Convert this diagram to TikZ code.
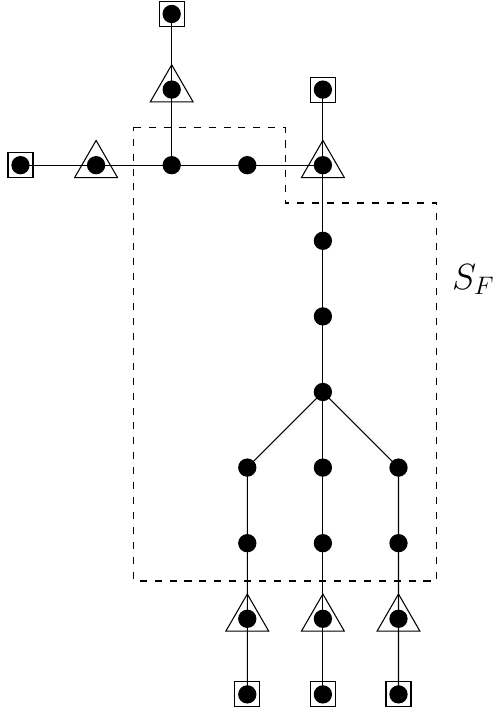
\documentclass[tikz,border=0pt]{standalone}
\usetikzlibrary{shapes.geometric,backgrounds}
\begin{document}
\begin{tikzpicture}[x=1.512cm,y=-1.512cm,
  ln/.style={line width=0.6pt},
  dotn/.style={circle,fill=black,minimum size=0.366cm,inner sep=0pt},
  sqn/.style={draw,line width=0.6pt,minimum size=0.5cm,inner sep=0pt,
    path picture={\fill[black] (path picture bounding box.center) circle (0.183cm);}},
  trin/.style={draw,line width=0.6pt,regular polygon,regular polygon sides=3,minimum size=0.99cm,inner sep=0pt},
  region/.style={line width=0.6pt,dash pattern=on 4pt off 4.5pt}]
\useasboundingbox (-0.271,-0.185) rectangle (6.290,9.233);
% top branch
\node[sqn] (t0) at (2,0) {};
\node[trin] (t1) at (2,1) {};
\node[dotn] (t1d) at (t1.center) {};
% horizontal row
\node[sqn] (l0) at (0,2) {};
\node[trin] (l1) at (1,2) {};
\node[dotn] (l1d) at (l1.center) {};
\node[dotn] (c) at (2,2) {};
\node[dotn] (m) at (3,2) {};
\node[trin] (r1) at (4,2) {};
\node[dotn] (r1d) at (r1.center) {};
\node[sqn] (r0) at (4,1) {};
% vertical chain
\node[dotn] (v1) at (4,3) {};
\node[dotn] (v2) at (4,4) {};
\node[dotn] (v3) at (4,5) {};
% branches
\node[dotn] (a1) at (3,6) {};
\node[dotn] (b1) at (4,6) {};
\node[dotn] (c1) at (5,6) {};
\node[dotn] (a2) at (3,7) {};
\node[dotn] (b2) at (4,7) {};
\node[dotn] (c2) at (5,7) {};
\node[trin] (a3) at (3,8) {};
\node[dotn] (a3d) at (a3.center) {};
\node[trin] (b3) at (4,8) {};
\node[dotn] (b3d) at (b3.center) {};
\node[trin] (c3) at (5,8) {};
\node[dotn] (c3d) at (c3.center) {};
\node[sqn] (a4) at (3,9) {};
\node[sqn] (b4) at (4,9) {};
\node[sqn] (c4) at (5,9) {};
\begin{scope}[on background layer]
\draw[ln] (t0.center) -- (t1.center) -- (c.center);
\draw[ln] (l0.center) -- (l1.center) -- (c.center) -- (m.center) -- (r1.center);
\draw[ln] (r0.center) -- (r1.center) -- (v1.center) -- (v2.center) -- (v3.center);
\draw[ln] (v3.center) -- (a1.center) -- (a2.center) -- (a3.center) -- (a4.center);
\draw[ln] (v3.center) -- (b1.center) -- (b2.center) -- (b3.center) -- (b4.center);
\draw[ln] (v3.center) -- (c1.center) -- (c2.center) -- (c3.center) -- (c4.center);
\end{scope}
% region
\coordinate (p1) at (1.5,1.5);
\coordinate (p2) at (3.5,1.5);
\coordinate (p3) at (3.5,2.5);
\coordinate (p4) at (5.5,2.5);
\coordinate (p5) at (5.5,7.5);
\coordinate (p6) at (1.5,7.5);
\draw[region] (p1) -- (p2) -- (p3) -- (p4) -- (p5) -- (p6) -- cycle;
\node[font=\fontsize{22}{26}\selectfont,inner sep=0pt] (sf) at (5.99,3.51) {$S_F$};
\end{tikzpicture}
\end{document}
